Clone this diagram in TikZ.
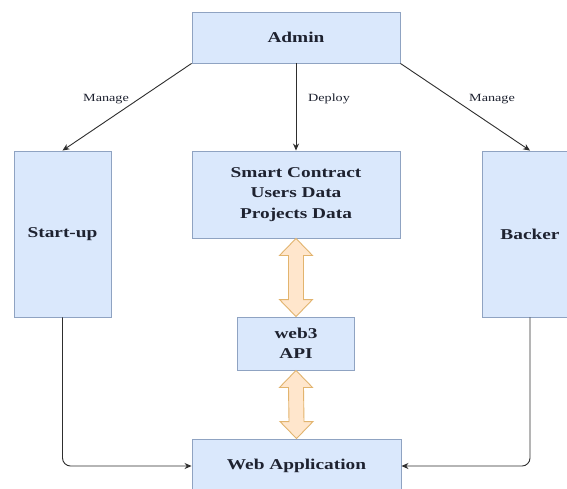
\documentclass[tikz,border=0pt]{standalone}
\usepackage{fontspec}
\setmainfont[FakeStretch=1.29]{Liberation Serif}
\usetikzlibrary{arrows.meta,calc}
\definecolor{boxfill}{HTML}{DAE8FC}
\definecolor{boxline}{HTML}{8FA3C2}
\definecolor{txt}{HTML}{1E2230}
\definecolor{orfill}{HTML}{FFE6CC}
\definecolor{orline}{HTML}{E2B46E}
\definecolor{conn}{HTML}{2E2E2E}
\tikzset{
  blk/.style={draw=boxline, fill=boxfill, line width=0.9pt, inner sep=0pt, align=center,
    text=txt, font=\fontsize{15}{20.5}\selectfont\bfseries},
  lbl/.style={font=\fontsize{11}{13}\selectfont, text=txt, inner sep=1pt},
  cn/.style={draw=conn, line width=0.9pt, -{Stealth[length=7pt,width=6pt]}},
  dbl/.style={draw=orline, fill=orfill, line width=0.9pt, line join=miter},
}
\newcommand{\dblarr}[2]{%
  \path[dbl] (#1) -- ($(#1)+(16.5,17)$) -- ($(#1)+(7.5,17)$) -- ($(#2)+(7.5,-17)$)
    -- ($(#2)+(16.5,-17)$) -- (#2) -- ($(#2)+(-16.5,-17)$) -- ($(#2)+(-7.5,-17)$)
    -- ($(#1)+(-7.5,17)$) -- ($(#1)+(-16.5,17)$) -- cycle;}
\begin{document}
\begin{tikzpicture}[x=1pt,y=-1pt]
\useasboundingbox[fill=white] (0,0) rectangle (567,488);
\node[blk, minimum width=208pt, minimum height=51pt] (admin) at (296,37.5) {Admin};
\node[blk, minimum width=208pt, minimum height=87pt] (sc) at (296,194.5) {Smart Contract\\Users Data\\Projects Data};
\node[blk, minimum width=97pt, minimum height=166pt] (su) at (62.5,234) {Start-up};
\node[blk, minimum width=96pt, minimum height=166pt] (bk) at (530,234) {Backer};
\node[blk, minimum width=117pt, minimum height=53pt] (w3) at (296,343.5) {web3\\API};
\node[blk, minimum width=209pt, minimum height=54pt] (wa) at (296.5,466) {Web Application};

\draw[cn] (admin.south west) -- (su.north);
\draw[cn] (admin.south) -- (sc.north);
\draw[cn] (admin.south east) -- (bk.north);
\node[lbl] (l1) at (106,99) {Manage};
\node[lbl] (l2) at (329,99) {Deploy};
\node[lbl] (l3) at (492,99) {Manage};

\draw[cn, rounded corners=8pt] (su.south) |- (wa.west);
\draw[cn, rounded corners=8pt] (bk.south) |- (wa.east);

\dblarr{sc.south}{w3.north}
\dblarr{w3.south}{wa.north}
\end{tikzpicture}
\end{document}
